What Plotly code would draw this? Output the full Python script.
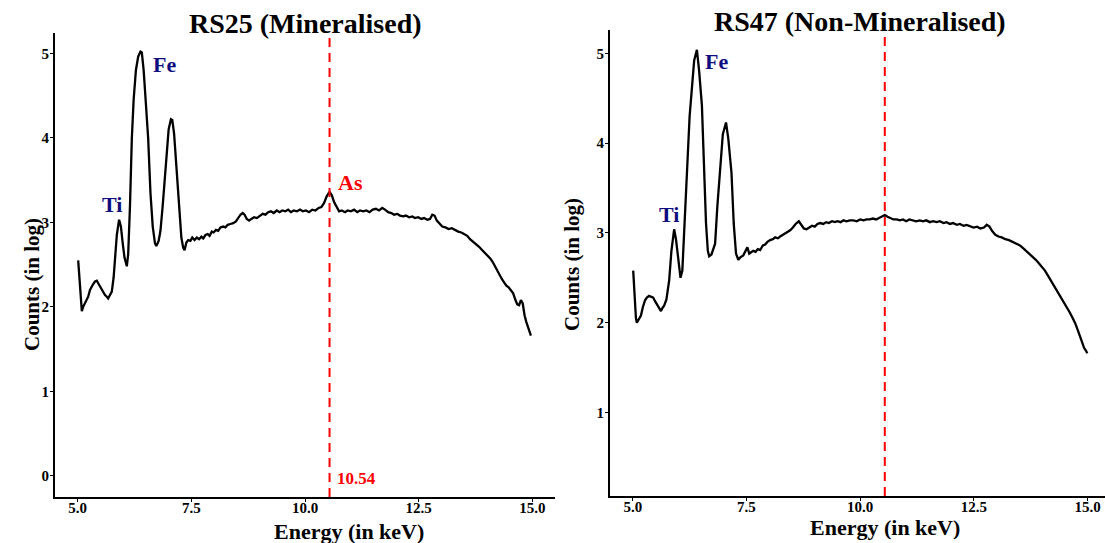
import plotly.graph_objects as go

# ---------------- data ----------------
left_energy = [5.01, 5.04, 5.07, 5.09, 5.12, 5.16, 5.20, 5.23, 5.27, 5.31, 5.34, 5.38, 5.42, 5.46, 5.51, 5.55,
               5.60, 5.64, 5.67, 5.71, 5.75, 5.79, 5.82, 5.86, 5.91, 5.95, 5.99, 6.03, 6.08, 6.11, 6.15, 6.19,
               6.23, 6.28, 6.33, 6.38, 6.41, 6.45, 6.50, 6.55, 6.60, 6.65, 6.70, 6.73, 6.78, 6.82, 6.87, 6.92,
               6.96, 7.00, 7.05, 7.08, 7.12, 7.18, 7.23, 7.28, 7.32, 7.35, 7.39, 7.43, 7.48, 7.52, 7.57, 7.62,
               7.67, 7.72, 7.76, 7.81, 7.86, 7.90, 7.95, 7.99, 8.04, 8.09, 8.14, 8.20, 8.25, 8.30, 8.36, 8.42,
               8.48, 8.53, 8.58, 8.63, 8.67, 8.72, 8.77, 8.82, 8.88, 8.94, 9.01, 9.07, 9.13, 9.19, 9.25, 9.31,
               9.38, 9.44, 9.50, 9.57, 9.63, 9.69, 9.75, 9.82, 9.89, 9.95, 10.02, 10.09, 10.16, 10.23, 10.30,
               10.36, 10.42, 10.48, 10.54, 10.59, 10.64, 10.70, 10.75, 10.81, 10.88, 10.94, 11.01, 11.08, 11.15,
               11.21, 11.28, 11.35, 11.42, 11.49, 11.56, 11.63, 11.70, 11.76, 11.83, 11.90, 11.96, 12.03, 12.09,
               12.16, 12.22, 12.29, 12.36, 12.42, 12.49, 12.56, 12.62, 12.69, 12.75, 12.80, 12.85, 12.90, 12.96,
               13.02, 13.09, 13.16, 13.23, 13.30, 13.37, 13.44, 13.51, 13.57, 13.63, 13.70, 13.76, 13.83, 13.90,
               13.96, 14.02, 14.08, 14.13, 14.18, 14.23, 14.28, 14.33, 14.38, 14.43, 14.48, 14.53, 14.58, 14.63,
               14.67, 14.71, 14.75, 14.79, 14.83, 14.87, 14.91, 14.94, 14.97]
left_counts = [2.55, 2.30, 2.02, 1.95, 2.00, 2.04, 2.08, 2.12, 2.20, 2.25, 2.27, 2.30, 2.31, 2.27, 2.22, 2.18,
               2.14, 2.12, 2.10, 2.14, 2.18, 2.35, 2.57, 2.85, 3.03, 2.95, 2.75, 2.58, 2.48, 2.62, 3.20, 3.99,
               4.45, 4.80, 4.96, 5.02, 5.01, 4.80, 4.40, 3.99, 3.35, 2.95, 2.75, 2.72, 2.78, 2.90, 3.20, 3.55,
               3.85, 4.10, 4.22, 4.21, 4.05, 3.60, 3.15, 2.82, 2.70, 2.67, 2.76, 2.79, 2.78, 2.82, 2.79, 2.82,
               2.80, 2.83, 2.81, 2.85, 2.86, 2.84, 2.89, 2.88, 2.91, 2.90, 2.94, 2.95, 2.94, 2.97, 2.98, 2.99,
               3.01, 3.05, 3.09, 3.11, 3.09, 3.04, 3.02, 3.04, 3.06, 3.05, 3.08, 3.10, 3.09, 3.12, 3.13, 3.11,
               3.14, 3.12, 3.14, 3.13, 3.15, 3.12, 3.14, 3.13, 3.15, 3.13, 3.14, 3.12, 3.15, 3.14, 3.17,
               3.18, 3.23, 3.31, 3.36, 3.32, 3.24, 3.17, 3.13, 3.14, 3.12, 3.14, 3.13, 3.15, 3.12,
               3.14, 3.13, 3.14, 3.12, 3.15, 3.16, 3.14, 3.17, 3.15, 3.12, 3.11, 3.09, 3.10, 3.08,
               3.07, 3.08, 3.06, 3.07, 3.05, 3.06, 3.04, 3.05, 3.03, 3.04, 3.09, 3.08, 3.02, 2.98,
               2.95, 2.94, 2.92, 2.93, 2.91, 2.89, 2.88, 2.86, 2.84, 2.80, 2.77, 2.74, 2.71, 2.67,
               2.64, 2.61, 2.57, 2.53, 2.48, 2.43, 2.37, 2.33, 2.29, 2.25, 2.23, 2.19, 2.16, 2.08,
               2.03, 2.02, 2.08, 2.04, 1.90, 1.82, 1.76, 1.70, 1.66]

right_energy = [5.01, 5.04, 5.07, 5.09, 5.13, 5.18, 5.22, 5.27, 5.31, 5.36, 5.40, 5.45, 5.49, 5.53, 5.58, 5.62,
                5.66, 5.69, 5.74, 5.80, 5.85, 5.91, 5.95, 6.00, 6.05, 6.09, 6.14, 6.19, 6.25, 6.30, 6.35, 6.41,
                6.46, 6.52, 6.57, 6.61, 6.65, 6.68, 6.73, 6.81, 6.86, 6.92, 6.98, 7.05, 7.10, 7.17, 7.22, 7.27,
                7.32, 7.37, 7.43, 7.48, 7.52, 7.56, 7.60, 7.65, 7.70, 7.75, 7.80, 7.86, 7.91, 7.96, 8.02, 8.08,
                8.13, 8.19, 8.24, 8.30, 8.35, 8.41, 8.46, 8.52, 8.58, 8.65, 8.70, 8.76, 8.82, 8.88, 8.94, 9.00,
                9.06, 9.12, 9.19, 9.25, 9.31, 9.38, 9.44, 9.50, 9.57, 9.63, 9.70, 9.77, 9.85, 9.92, 10.00, 10.07,
                10.14, 10.21, 10.28, 10.35, 10.42, 10.48, 10.54, 10.60, 10.67, 10.73, 10.80, 10.87, 10.94, 11.01,
                11.08, 11.15, 11.23, 11.31, 11.38, 11.45, 11.53, 11.60, 11.68, 11.75, 11.83, 11.90, 11.97, 12.04,
                12.12, 12.19, 12.27, 12.34, 12.42, 12.49, 12.57, 12.64, 12.72, 12.78, 12.84, 12.90, 12.97, 13.04,
                13.11, 13.19, 13.27, 13.35, 13.43, 13.51, 13.58, 13.65, 13.72, 13.79, 13.86, 13.93, 14.00, 14.06,
                14.12, 14.18, 14.24, 14.30, 14.36, 14.42, 14.48, 14.54, 14.60, 14.66, 14.72, 14.78, 14.83, 14.88,
                14.92, 14.96, 14.99]
right_counts = [2.58, 2.30, 2.05, 2.00, 2.03, 2.08, 2.17, 2.25, 2.28, 2.30, 2.29, 2.28, 2.24, 2.21, 2.16, 2.13,
                2.17, 2.19, 2.26, 2.47, 2.80, 3.04, 2.93, 2.70, 2.50, 2.58, 3.10, 3.67, 4.30, 4.61, 4.92, 5.04,
                4.80, 4.42, 3.70, 3.11, 2.80, 2.74, 2.76, 2.88, 3.30, 3.74, 4.10, 4.23, 4.05, 3.67, 3.10, 2.77,
                2.70, 2.73, 2.75, 2.80, 2.84, 2.77, 2.78, 2.80, 2.79, 2.82, 2.81, 2.86, 2.87, 2.90, 2.92, 2.93,
                2.95, 2.94, 2.96, 2.98, 2.99, 3.01, 3.03, 3.06, 3.10, 3.13, 3.09, 3.05, 3.04, 3.06, 3.08, 3.07,
                3.10, 3.11, 3.10, 3.12, 3.11, 3.13, 3.12, 3.13, 3.12, 3.14, 3.13, 3.14, 3.14, 3.13, 3.15, 3.14,
                3.15, 3.15, 3.16, 3.15, 3.17, 3.19, 3.20, 3.18, 3.16, 3.15, 3.15, 3.14, 3.15, 3.13,
                3.15, 3.14, 3.13, 3.14, 3.13, 3.14, 3.12, 3.13, 3.12, 3.13, 3.11, 3.12, 3.10, 3.11,
                3.09, 3.10, 3.08, 3.09, 3.07, 3.06, 3.07, 3.05, 3.06, 3.09, 3.07, 3.02, 2.98, 2.96,
                2.95, 2.93, 2.92, 2.90, 2.88, 2.86, 2.83, 2.80, 2.77, 2.73, 2.70, 2.66, 2.62, 2.58,
                2.53, 2.48, 2.43, 2.38, 2.33, 2.28, 2.23, 2.18, 2.12, 2.06, 2.00, 1.92, 1.84, 1.77,
                1.72, 1.69, 1.66]

x_tickvals = [5.0, 7.5, 10.0, 12.5, 15.0]
x_ticktext = ["5.0", "7.5", "10.0", "12.5", "15.0"]
left_ytickvals = [0, 1, 2, 3, 4, 5]
right_ytickvals = [1, 2, 3, 4, 5]
marker_energy = 10.54

titles = ["RS25 (Mineralised)", "RS47 (Non-Mineralised)"]
x_title = "Energy (in keV)"
y_title = "Counts (in log)"

# ---------------- figure ----------------
W, H = 1105, 543
SERIF = "Liberation Serif, Times New Roman, serif"
NAVY = "#0d0d80"
RED = "#ff0000"

fig = go.Figure()
fig.add_trace(go.Scatter(x=left_energy, y=left_counts, mode="lines",
                         line=dict(color="black", width=2.3), xaxis="x", yaxis="y", showlegend=False))
fig.add_trace(go.Scatter(x=right_energy, y=right_counts, mode="lines",
                         line=dict(color="black", width=2.3), xaxis="x2", yaxis="y2", showlegend=False))

tickfont = dict(family=SERIF, size=15, color="black", weight="bold")
common_x = dict(tickvals=x_tickvals, ticktext=x_ticktext, showline=True, linecolor="black", linewidth=2,
                showgrid=False, zeroline=False, ticks="outside", ticklen=3, tickcolor="black",
                tickfont=tickfont, ticklabelstandoff=-7)
common_y = dict(showline=True, linecolor="black", linewidth=2, showgrid=False, zeroline=False,
                ticks="outside", ticklen=3, tickcolor="black", tickfont=tickfont, ticklabelstandoff=-2)

fig.update_layout(
    width=W, height=H,
    margin=dict(l=0, r=0, t=0, b=0),
    paper_bgcolor="white", plot_bgcolor="white",
    xaxis=dict(domain=[55 / W, 555 / W], range=[4.5, 15.5], anchor="y", **common_x),
    yaxis=dict(domain=[(H - 497) / H, (H - 33) / H], range=[-0.25, 5.24], tickvals=left_ytickvals,
               anchor="x", **common_y),
    xaxis2=dict(domain=[610 / W, 1.0], range=[4.5, 15.38], anchor="y2", **common_x),
    yaxis2=dict(domain=[(H - 496) / H, (H - 30) / H], range=[0.07, 5.26], tickvals=right_ytickvals,
                anchor="x2", **common_y),
)

# dashed marker lines
for xr, yr in (("x", "y domain"), ("x2", "y2 domain")):
    fig.add_shape(type="line", xref=xr, yref=yr, x0=marker_energy, x1=marker_energy, y0=0, y1=1,
                  line=dict(color=RED, width=2, dash="9px,6px"))

def ann(text, x, y, xref, yref, size, color, xanchor="center", yanchor="middle", angle=0):
    fig.add_annotation(text=text, x=x, y=y, xref=xref, yref=yref, showarrow=False,
                       xanchor=xanchor, yanchor=yanchor, textangle=angle,
                       font=dict(family=SERIF, size=size, color=color, weight="bold"))

# panel titles
ann(titles[0], 305 / W, 1 - 23 / H, "paper", "paper", 28, "black")
ann(titles[1], 860 / W, 1 - 21 / H, "paper", "paper", 28, "black")
# axis titles
ann(x_title, 349 / W, 1 - 531 / H, "paper", "paper", 22, "black")
ann(x_title, 885 / W, 1 - 527 / H, "paper", "paper", 22, "black")
ann(y_title, 32 / W, 1 - 285 / H, "paper", "paper", 21, "black", angle=-90)
ann(y_title, 572 / W, 1 - 265 / H, "paper", "paper", 21, "black", angle=-90)

# element labels
ann("Fe", 6.61, 4.87, "x", "y", 22, NAVY, xanchor="left")
ann("Ti", 5.50, 3.21, "x", "y", 22, NAVY, xanchor="left")
ann("As", 10.68, 3.47, "x", "y", 22, RED, xanchor="left")
ann("10.54", 10.65, -0.03, "x", "y", 17, RED, xanchor="left")
ann("Fe", 6.54, 4.91, "x2", "y2", 22, NAVY, xanchor="left")
ann("Ti", 5.53, 3.21, "x2", "y2", 22, NAVY, xanchor="left")

fig.write_html("out.html", config={"displayModeBar": False},
               post_script="document.body.style.margin='0';document.body.style.overflow='hidden';")
